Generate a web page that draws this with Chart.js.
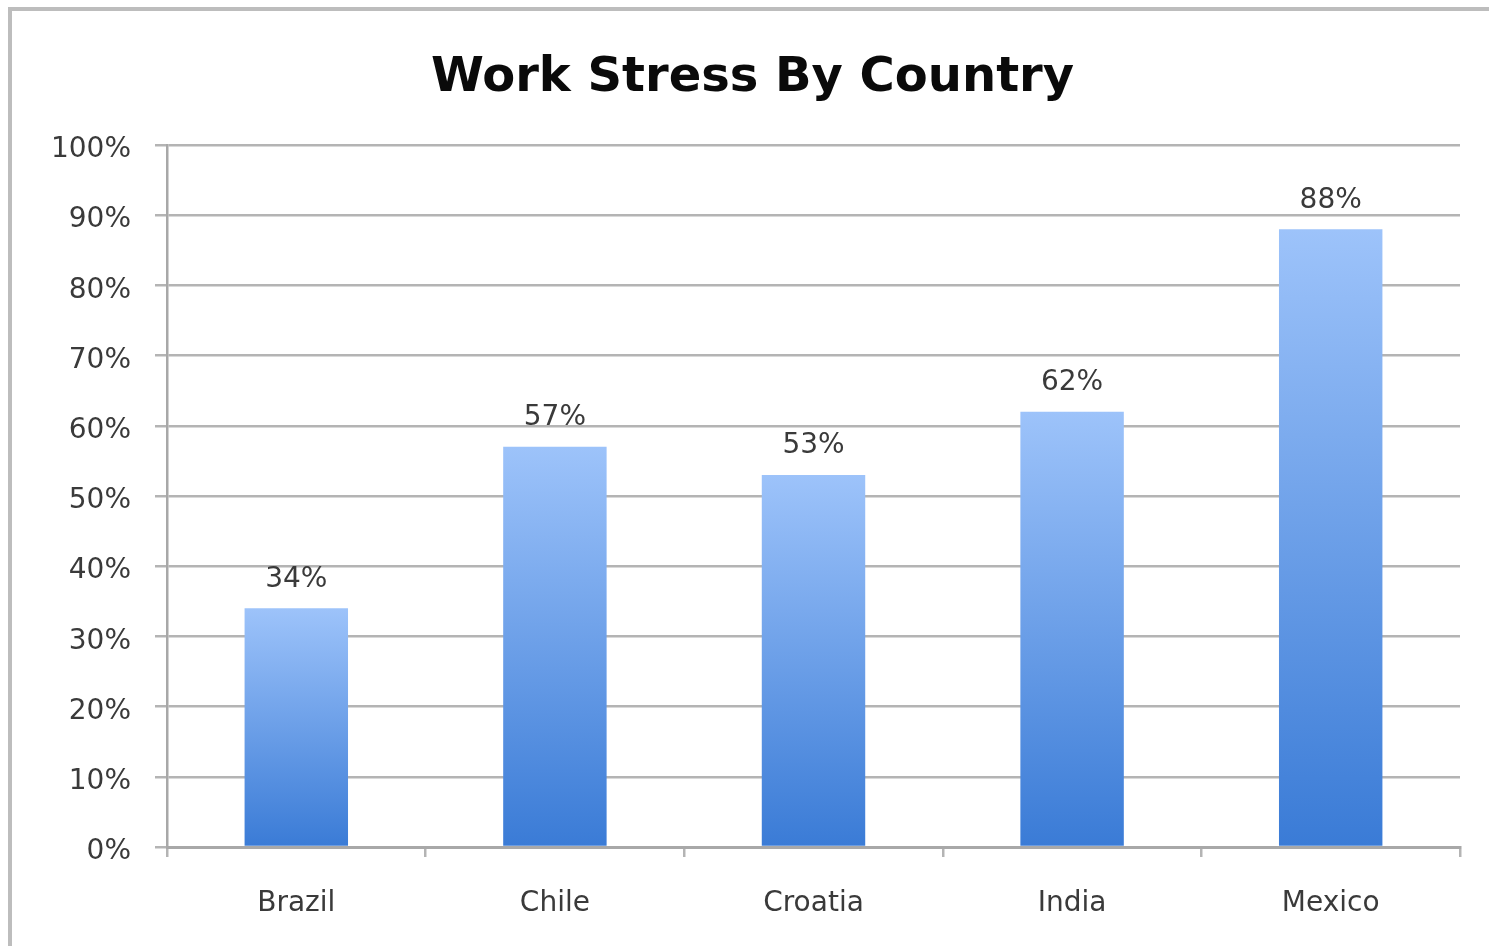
<!DOCTYPE html>
<html>
<head>
<meta charset="utf-8">
<script src="https://cdn.jsdelivr.net/npm/chart.js@4"></script>
<style>
  html, body { margin: 0; padding: 0; background: #ffffff; }
  #wrap { width: 1489px; height: 946px; position: relative; }
</style>
</head>
<body>
<div id="wrap"><canvas id="c"></canvas></div>
<script>
const titleText = 'Work Stress By Country';
const categories = ['Brazil', 'Chile', 'Croatia', 'India', 'Mexico'];
const stressValues = [34, 57, 53, 62, 88];
const yTickMin = 0;
const yTickMax = 100;
const yTickStep = 10;

const FONT = "'DejaVu Sans', sans-serif";
const TEXT = '#3a3a3a';
const GRID = '#b4b4b4';

const framePlugin = {
  id: 'frame',
  beforeDraw(chart) {
    const c = chart.ctx;
    c.save();
    c.fillStyle = '#ffffff';
    c.fillRect(0, 0, chart.width, chart.height);
    c.strokeStyle = '#bdbdbd';
    c.lineWidth = 4;
    c.beginPath();
    c.moveTo(10, chart.height);
    c.lineTo(10, 9);
    c.lineTo(chart.width, 9);
    c.stroke();
    c.restore();
  }
};

const labelPlugin = {
  id: 'barLabels',
  afterDatasetsDraw(chart) {
    const c = chart.ctx;
    const meta = chart.getDatasetMeta(0);
    c.save();
    c.font = '28px ' + FONT;
    c.fillStyle = TEXT;
    c.textAlign = 'center';
    c.textBaseline = 'middle';
    meta.data.forEach((el, i) => {
      c.fillText(stressValues[i] + '%', el.x, el.y - 29);
    });
    c.restore();
  }
};

new Chart(document.getElementById('c'), {
  type: 'bar',
  data: {
    labels: categories,
    datasets: [{
      data: stressValues,
      barPercentage: 0.4,
      categoryPercentage: 1.0,
      borderWidth: 0,
      backgroundColor: (ctx) => {
        const chart = ctx.chart;
        const area = chart.chartArea;
        if (!area || ctx.type !== 'data' || !chart.scales.y) return '#6a9fe6';
        const y0 = chart.scales.y.getPixelForValue(0);
        const y1 = chart.scales.y.getPixelForValue(ctx.raw);
        const g = chart.ctx.createLinearGradient(0, y1, 0, y0);
        g.addColorStop(0, '#9dc3fa');
        g.addColorStop(1, '#3a7bd6');
        return g;
      }
    }]
  },
  options: {
    responsive: true,
    maintainAspectRatio: false,
    devicePixelRatio: 1,
    animation: false,
    layout: { padding: { left: 45, right: 29, top: 0, bottom: 0 } },
    plugins: {
      legend: { display: false },
      tooltip: { enabled: false },
      title: {
        display: true,
        text: titleText,
        color: '#0a0a0a',
        font: { family: FONT, size: 48, weight: 'bold', lineHeight: 1.2 },
        padding: { top: 50, bottom: 37.4 }
      }
    },
    scales: {
      x: {
        grid: {
          display: true,
          drawOnChartArea: false,
          drawTicks: true,
          tickLength: 10,
          color: GRID,
          lineWidth: 2.5,
          offset: true
        },
        border: { display: true, color: '#a8a8a8', width: 3 },
        ticks: {
          color: TEXT,
          font: { family: FONT, size: 28, lineHeight: 1.2 },
          padding: 30,
          maxRotation: 0
        },
        afterFit(scale) { scale.height = 99; }
      },
      y: {
        min: yTickMin,
        max: yTickMax,
        grid: {
          color: GRID,
          lineWidth: 2.5,
          drawTicks: true,
          tickLength: 12
        },
        border: { display: true, color: '#a8a8a8', width: 2.5 },
        ticks: {
          stepSize: yTickStep,
          color: TEXT,
          font: { family: FONT, size: 28, lineHeight: 1.2 },
          padding: 24,
          labelOffset: 5,
          callback: (v) => v + '%'
        },
        afterFit(scale) { scale.width = 122; }
      }
    }
  },
  plugins: [framePlugin, labelPlugin]
});
</script>
</body>
</html>
